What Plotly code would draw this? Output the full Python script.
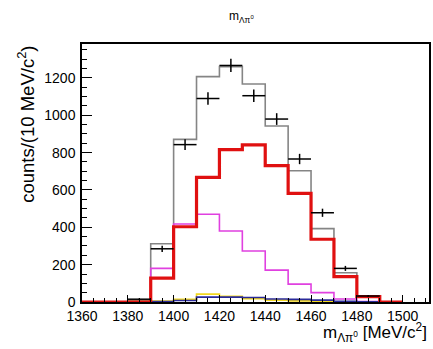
import numpy as np
import plotly.graph_objects as go

# Bin edges of the invariant-mass histograms (10 MeV/c^2 bins)
bin_edges = [1360, 1370, 1380, 1390, 1400, 1410, 1420, 1430, 1440,
             1450, 1460, 1470, 1480, 1490, 1500]

# Per-bin contents of each component
total_mc = [0, 0, 8, 312, 871, 1207, 1261, 1168, 943, 703, 393, 157, 30, 0]
signal = [0, 0, 0, 128, 403, 668, 816, 842, 730, 582, 336, 136, 29, 0]
bkg_magenta = [0, 0, 0, 180, 418, 470, 380, 273, 171, 96, 50, 16, 2, 0]
bkg_yellow = [0, 0, 2, 5, 15, 42, 30, 18, 10, 6, 3, 1, 0, 0]
bkg_blue = [0, 0, 0, 2, 8, 26, 26, 24, 16, 14, 10, 4, 1, 0]

# Measured data points at bin centres
data_x = [1385, 1395, 1405, 1415, 1425, 1435, 1445, 1455, 1465, 1475, 1485]
data_y = [15, 285, 843, 1090, 1267, 1105, 980, 766, 478, 180, 32]

x_ticks = [1360, 1380, 1400, 1420, 1440, 1460, 1480, 1500]
y_ticks = [0, 200, 400, 600, 800, 1000, 1200]

FONT = "Liberation Sans, Arial, sans-serif"


def step_trace(values, color, width):
    ys = list(values) + [values[-1]]
    return go.Scatter(x=bin_edges, y=ys, mode="lines",
                      line=dict(shape="hv", color=color, width=width),
                      hoverinfo="skip", showlegend=False)


fig = go.Figure()
fig.add_trace(step_trace(total_mc, "#858585", 1.6))
fig.add_trace(step_trace(bkg_magenta, "#e040e0", 1.6))
fig.add_trace(step_trace(bkg_yellow, "#f2d820", 1.6))
fig.add_trace(step_trace(bkg_blue, "#2a2a9a", 1.6))
fig.add_trace(step_trace(signal, "#e01010", 3.2))

fig.add_trace(go.Scatter(
    x=data_x, y=data_y, mode="markers",
    marker=dict(size=1, color="black"),
    error_x=dict(type="constant", value=5, color="black", thickness=1.5, width=0),
    error_y=dict(type="data", array=np.sqrt(data_y).tolist(), color="black",
                 thickness=1.5, width=0),
    hoverinfo="skip", showlegend=False))

fig.update_layout(
    width=433, height=349,
    margin=dict(l=82, r=2, t=44, b=47),
    plot_bgcolor="white", paper_bgcolor="white",
    font=dict(family=FONT, color="black", size=13),
    showlegend=False,
)

fig.update_xaxes(
    range=[1360, 1511.5], tickvals=x_ticks, ticks="inside", ticklen=7,
    tickwidth=1.2, tickcolor="black", showline=True, linecolor="black",
    linewidth=1.5, mirror=True, showgrid=False, zeroline=False,
    tickfont=dict(size=14), ticklabelstandoff=0,
    minor=dict(dtick=5, tick0=1360, ticks="inside", ticklen=4,
               tickcolor="black", tickwidth=1, showgrid=False),
)
fig.update_yaxes(
    range=[0, 1382], tickvals=y_ticks, ticks="inside", ticklen=10,
    tickwidth=1.2, tickcolor="black", showline=True, linecolor="black",
    linewidth=1.5, mirror=True, showgrid=False, zeroline=False,
    tickfont=dict(size=14), ticklabelstandoff=2,
    minor=dict(dtick=50, tick0=0, ticks="inside", ticklen=5,
               tickcolor="black", tickwidth=1, showgrid=False),
)

# Histogram title
fig.add_annotation(text="m<sub>Λπ<sup>0</sup></sub>", xref="paper", yref="paper",
                   x=0.46, y=1 + 27 / 258, xanchor="center", yanchor="middle",
                   showarrow=False, font=dict(size=12))

# Axis titles (right / top aligned)
fig.add_annotation(text="m<sub>Λπ<sup>0</sup></sub> [MeV/c<sup>2</sup>]",
                   xref="paper", yref="paper", x=1.0, y=-(347 - 302) / 258,
                   xanchor="right", yanchor="bottom", showarrow=False,
                   font=dict(size=17))
fig.add_annotation(text="counts/(10 MeV/c<sup>2</sup>)", textangle=-90,
                   xref="paper", yref="paper", x=-57 / 349, y=1.0,
                   xanchor="center", yanchor="top", showarrow=False,
                   font=dict(size=18.5))

fig.write_html("out.html")
